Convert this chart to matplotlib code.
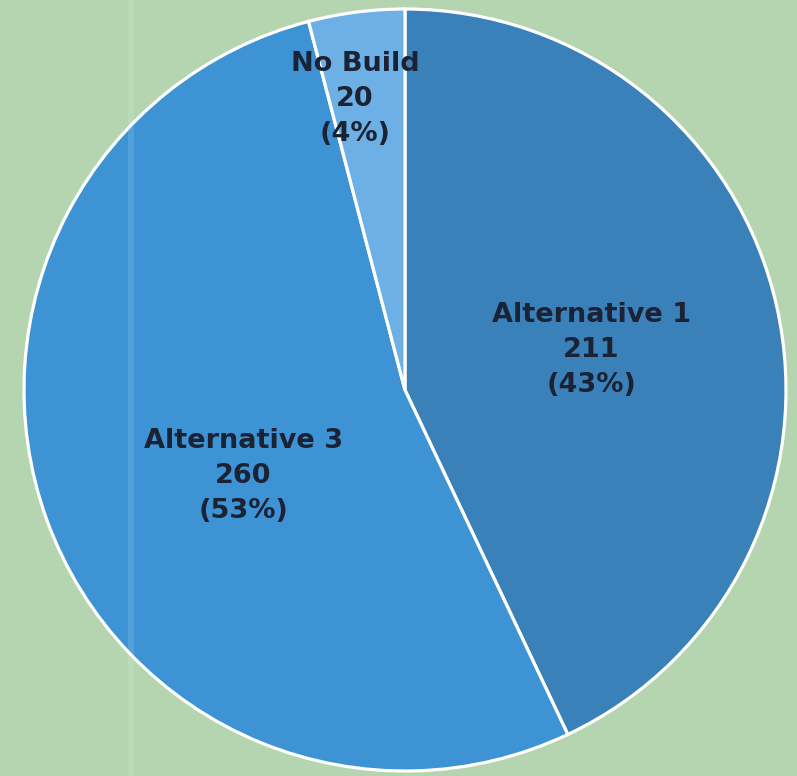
import numpy as np
import matplotlib.pyplot as plt
from matplotlib.patches import Rectangle

# survey results
labels = ['Alternative 1', 'Alternative 3', 'No Build']
counts = [211, 260, 20]
colors = ['#3a81ba', '#3d93d4', '#6cb0e6']

# where each label sits: fraction of the radius, and a small angular nudge (deg)
label_dist = [0.50, 0.48, 0.775]
label_nudge = [-0.6, 8.0, 2.4]

fig = plt.figure(figsize=(7.97, 7.76), dpi=100)
fig.patch.set_facecolor('#b4d5af')

# pie centre at (405, 390) px, radius 381 px
W, H, R = 797, 776, 381
cx, cy = 405, 390
ax = fig.add_axes([(cx - R) / W, (H - cy - R) / H, 2 * R / W, 2 * R / H])
ax.set_facecolor('none')

wedges, _ = ax.pie(counts, colors=colors, startangle=90, counterclock=False,
                   radius=1.0,
                   wedgeprops=dict(edgecolor='white', linewidth=2.3))
ax.set_xlim(-1, 1)
ax.set_ylim(-1, 1)
ax.set_aspect('equal')
ax.axis('off')

total = sum(counts)
for w, lab, n, d, nud in zip(wedges, labels, counts, label_dist, label_nudge):
    mid = np.deg2rad((w.theta1 + w.theta2) / 2 + nud)
    x, y = d * np.cos(mid), d * np.sin(mid)
    pct = round(n / total * 100)
    ax.text(x, y, f'{lab}\n{n}\n({pct}%)', ha='center', va='center',
            fontsize=19.5, fontweight='bold', family='DejaVu Sans',
            color='#1b2233', linespacing=1.45)

# faint light streak across the sheet
fig.patches.append(Rectangle((128 / W, 0), 6 / W, 1, transform=fig.transFigure,
                             facecolor='white', alpha=0.12, edgecolor='none',
                             zorder=5))

fig.savefig('out.png', dpi=100, facecolor=fig.get_facecolor())
